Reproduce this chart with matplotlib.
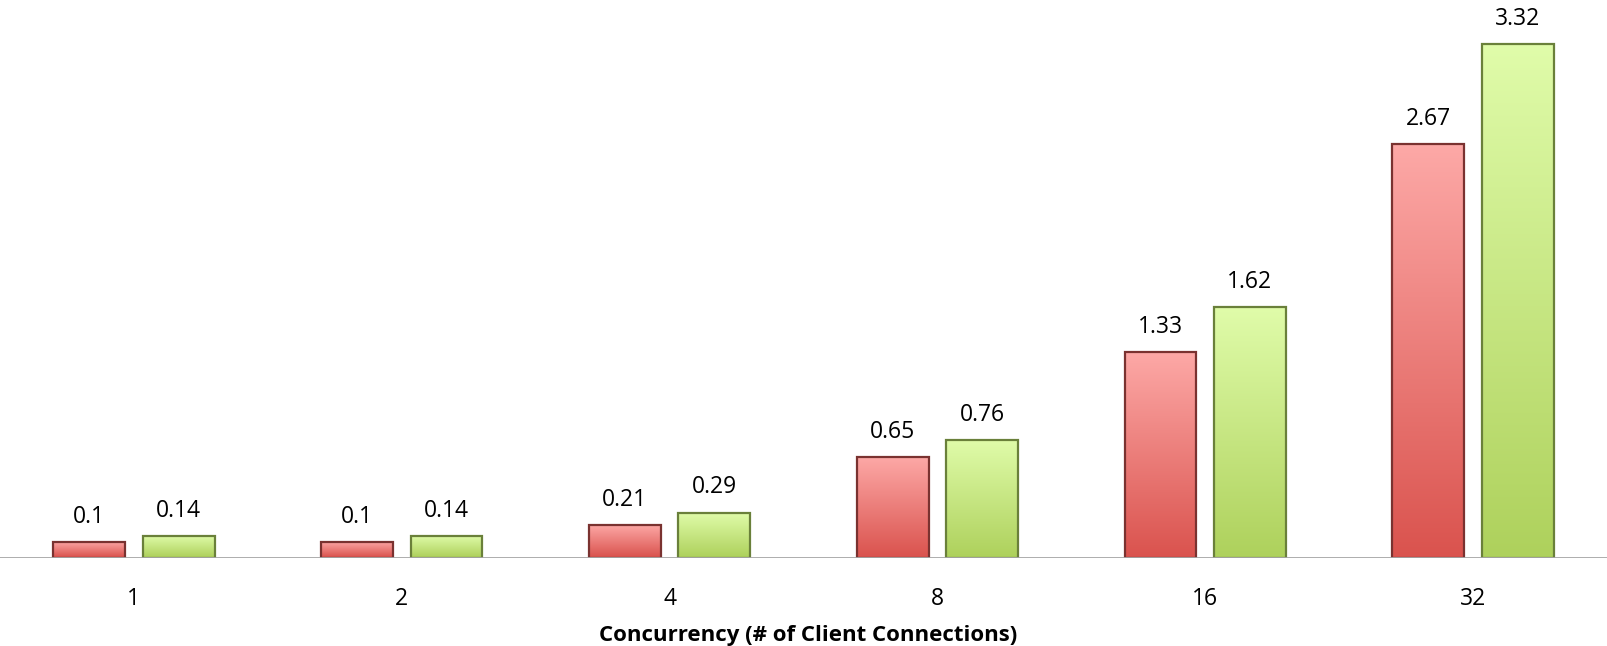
import matplotlib.pyplot as plt
import numpy as np
from matplotlib.colors import LinearSegmentedColormap

categories = ['1', '2', '4', '8', '16', '32']
series_a = [0.1, 0.1, 0.21, 0.65, 1.33, 2.67]
series_b = [0.14, 0.14, 0.29, 0.76, 1.62, 3.32]
xlabel = 'Concurrency (# of Client Connections)'

plt.rcParams['font.family'] = ['Open Sans', 'DejaVu Sans']

fig = plt.figure(figsize=(16.07, 6.46), dpi=100)
ax = fig.add_axes([0, 88.5 / 646, 1, 1 - 88.5 / 646])

red_cmap = LinearSegmentedColormap.from_list('r', ['#DA534E', '#FDA9A7'])
green_cmap = LinearSegmentedColormap.from_list('g', ['#AED15C', '#E0FCAA'])

width = 0.268
offset = 0.167
x = np.arange(len(categories))
grad = np.linspace(0, 1, 256).reshape(-1, 1)

for vals, off, cmap, edge in [(series_a, -offset, red_cmap, '#7A3230'),
                              (series_b, offset, green_cmap, '#6A803A')]:
    bars = ax.bar(x + off, vals, width, facecolor='none', edgecolor=edge,
                  linewidth=1.6, zorder=3)
    for b, v in zip(bars, vals):
        x0 = b.get_x()
        im = ax.imshow(grad, cmap=cmap, origin='lower', aspect='auto',
                       extent=[x0, x0 + width, 0, v], zorder=2)
        im.set_clip_path(b)
        ax.text(b.get_x() + width / 2, v + 0.085, f'{v:g}', ha='center',
                va='bottom', fontsize=16.5)

ax.set_xlim(-0.5, len(categories) - 0.5)
ax.set_ylim(0, 557.5 / 154.7)
ax.axhline(0, color='#A6A6A6', linewidth=2, zorder=4)
for s in ax.spines.values():
    s.set_visible(False)
ax.set_yticks([])
ax.set_xticks(x)
ax.set_xticklabels(categories, fontsize=16.5)
ax.tick_params(axis='x', length=0, pad=21)
fig.text(0.503, 4.5 / 646, xlabel, fontsize=16, fontweight='bold',
         ha='center', va='baseline')

fig.savefig('out.png', dpi=100)
